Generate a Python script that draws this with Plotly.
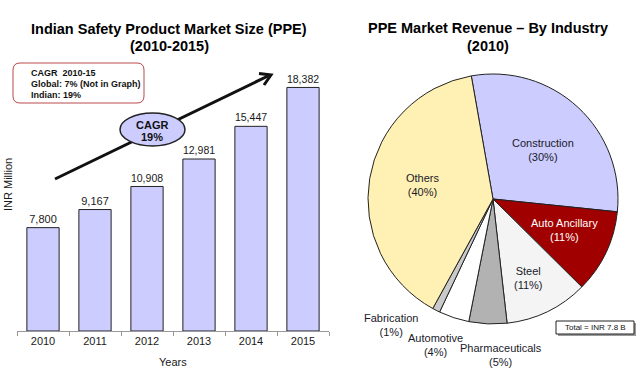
import plotly.graph_objects as go

# ---------------- data ----------------
years = ["2010", "2011", "2012", "2013", "2014", "2015"]
market_size = [7800, 9167, 10908, 12981, 15447, 18382]

industries = ["Construction", "Auto Ancillary", "Steel", "Pharmaceuticals",
              "Automotive", "Fabrication", "Others"]
industry_share = [30, 11, 11, 5, 4, 1, 40]
industry_colors = ["#ccccff", "#a00000", "#f4f4f4", "#b2b2b2",
                   "#ffffff", "#cacaca", "#fff0b3"]

W, H = 640, 375
FONT = "Liberation Sans, Arial, sans-serif"


def px(x, y):
    return x / W, 1 - y / H


fig = go.Figure()

fig.add_trace(go.Bar(
    x=years, y=market_size, width=0.62,
    marker=dict(color="#ccccff", line=dict(color="#222222", width=1)),
    texttemplate="%{y:,}", textposition="outside",
    textfont=dict(size=11, color="#1a1a1a", family=FONT),
    cliponaxis=False, hoverinfo="skip", showlegend=False,
))

fig.add_trace(go.Pie(
    labels=industries, values=industry_share, sort=False,
    direction="clockwise", rotation=-10,
    marker=dict(colors=industry_colors, line=dict(color="#222222", width=1)),
    textinfo="none", hoverinfo="skip", showlegend=False,
    domain=dict(x=[(493 - 125) / W, (493 + 125) / W],
                y=[(H - 199 - 125) / H, (H - 199 + 125) / H]),
))

annotations = []


def ann(x, y, text, size=11, color="#1a1a1a", xanchor="center", **kw):
    ax, ay = px(x, y)
    annotations.append(dict(x=ax, y=ay, xref="paper", yref="paper", text=text,
                            showarrow=False, xanchor=xanchor, yanchor="middle",
                            font=dict(size=size, color=color, family=FONT), **kw))


# titles
ann(169, 29, "<b>Indian Safety Product Market Size (PPE)</b>", size=14.5, color="#000000")
ann(169, 46, "<b>(2010-2015)</b>", size=14.5, color="#000000")
ann(488, 28, "<b>PPE Market Revenue \u2013 By Industry</b>", size=14.5, color="#000000")
ann(488, 46, "<b>(2010)</b>", size=14.5, color="#000000")

# axis titles
ann(173, 362, "Years", size=11)
ann(8, 185, "INR Million", size=11, textangle=-90)

# CAGR note box text
ann(29, 73, "<b>CAGR  2010-15</b>", size=9, color="#111111", xanchor="left")
ann(29, 84, "<b>Global: 7% (Not in Graph)</b>", size=9, color="#111111", xanchor="left")
ann(29, 95, "<b>Indian: 19%</b>", size=9, color="#111111", xanchor="left")

# CAGR ellipse text
ann(152, 125, "<b>CAGR</b>", size=11, color="#111111")
ann(152, 137, "<b>19%</b>", size=11, color="#111111")

# pie labels
label_pos = {
    "Construction": (543, 150, "#1a1a2a"),
    "Auto Ancillary": (564, 230, "#ffffff"),
    "Steel": (528, 278, "#1a1a2a"),
    "Pharmaceuticals": (501, 355, "#1a1a2a"),
    "Automotive": (435, 345, "#1a1a2a"),
    "Fabrication": (391, 325, "#1a1a2a"),
    "Others": (423, 185, "#1a1a2a"),
}
for name, share in zip(industries, industry_share):
    x, y, c = label_pos[name]
    ann(x, y, f"{name}<br>({share}%)", size=11, color=c)

# total box text
ann(595, 327.5, "Total = INR 7.8 B", size=8, color="#111111")

shapes = []

# rounded note box
x0, y0, x1, y1, r = 13, 63, 144, 103, 7
rx, ry = r / W, r / H
X0, Y1 = px(x0, y0)
X1, Y0 = px(x1, y1)
path = (f"M{X0+rx},{Y1} L{X1-rx},{Y1} Q{X1},{Y1} {X1},{Y1-ry} "
        f"L{X1},{Y0+ry} Q{X1},{Y0} {X1-rx},{Y0} L{X0+rx},{Y0} "
        f"Q{X0},{Y0} {X0},{Y0+ry} L{X0},{Y1-ry} Q{X0},{Y1} {X0+rx},{Y1} Z")
shapes.append(dict(type="path", xref="paper", yref="paper", path=path,
                   fillcolor="white", line=dict(color="#b94a4a", width=1)))

# arrow line and head
a0 = px(55, 179)
a1 = px(268, 76)
shapes.append(dict(type="line", xref="paper", yref="paper",
                   x0=a0[0], y0=a0[1], x1=a1[0], y1=a1[1],
                   line=dict(color="#111111", width=3)))
h1, tip, h2 = px(259, 73.5), px(271, 75), px(264, 85)
shapes.append(dict(type="path", xref="paper", yref="paper",
                   path=f"M{h1[0]},{h1[1]} L{tip[0]},{tip[1]} L{h2[0]},{h2[1]}",
                   line=dict(color="#111111", width=3)))

# ellipse
e0 = px(120, 113)
e1 = px(185, 146)
shapes.append(dict(type="circle", xref="paper", yref="paper",
                   x0=e0[0], y0=e1[1], x1=e1[0], y1=e0[1],
                   fillcolor="#ccccff", line=dict(color="#222222", width=1.5)))

# total box with shadow
s0, s1 = px(558, 323), px(636, 336)
shapes.append(dict(type="rect", xref="paper", yref="paper",
                   x0=s0[0], y0=s1[1], x1=s1[0], y1=s0[1],
                   fillcolor="#9a9a9a", line=dict(width=0)))
b0, b1 = px(556, 321), px(634, 334)
shapes.append(dict(type="rect", xref="paper", yref="paper",
                   x0=b0[0], y0=b1[1], x1=b1[0], y1=b0[1],
                   fillcolor="white", line=dict(color="#222222", width=1)))

fig.update_layout(
    width=W, height=H, margin=dict(l=0, r=0, t=0, b=0),
    paper_bgcolor="white", plot_bgcolor="white",
    font=dict(family=FONT, size=11, color="#1a1a1a"),
    xaxis=dict(domain=[17 / W, 329 / W], type="category",
               showline=True, linecolor="#999999", linewidth=1,
               ticks="outside", tickson="boundaries", ticklen=4, tickcolor="#999999",
               tickfont=dict(size=11, color="#1a1a1a"), showgrid=False, zeroline=False),
    yaxis=dict(domain=[(H - 331) / H, (H - 66) / H], range=[0, 20000],
               showline=False, showticklabels=False, showgrid=False, zeroline=False,
               ticks=""),
    annotations=annotations, shapes=shapes, bargap=0.38,
)

fig.write_html("out.html", config={"displayModeBar": False},
               post_script="document.body.style.margin='0';document.body.style.overflow='hidden';")
